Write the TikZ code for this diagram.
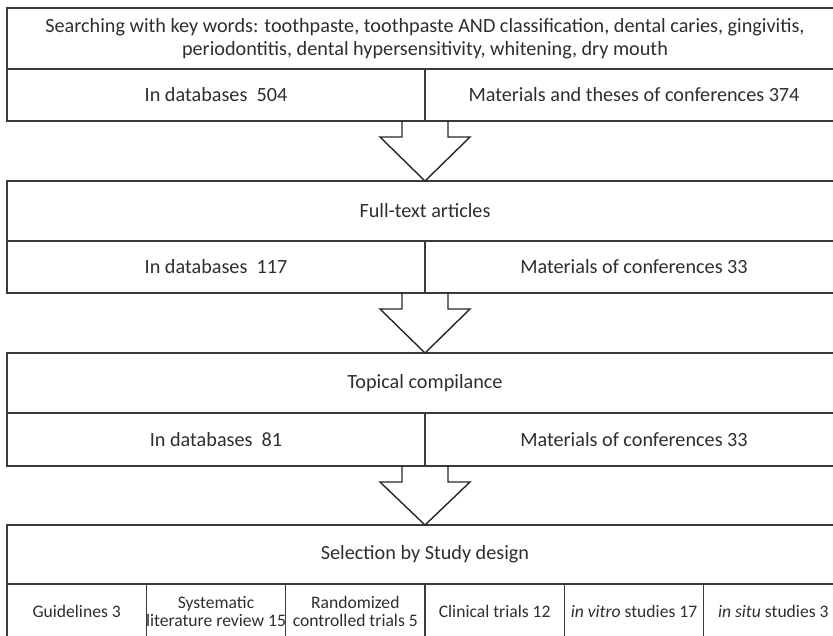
\documentclass[tikz,border=0pt]{standalone}
\usepackage{fontspec}
\setmainfont{Carlito}
\usepackage{xcolor}
\usepackage{tikz}
\usetikzlibrary{calc}

\definecolor{framegray}{HTML}{3A3A3A}
\definecolor{inkgray}{HTML}{2E2E2E}

\tikzset{
  boxframe/.style={line width=2pt, draw=framegray},
  divline/.style={line width=1.3pt, draw=framegray},
  blockarrow/.style={line width=1.4pt, draw=black!85, line join=miter},
  boxtext/.style={text=inkgray, font=\fontsize{20.2}{23}\selectfont, align=center, inner sep=0pt},
  celltext/.style={boxtext, font=\fontsize{17.6}{18}\selectfont},
}

\begin{document}
\begin{tikzpicture}[x=1pt, y=1pt]
  \useasboundingbox (0,0) rectangle (833,-635);
  \clip (0,0) rectangle (833,-635);

  % the three boxes with two halves
  \foreach \t/\m/\b in {8/69/121, 181/241/293, 353/413/466} {
    \draw[boxframe] (7,-\t) rectangle (843,-\b);
    \draw[divline] (7,-\m) -- (843,-\m);
    \draw[divline] (425,-\m) -- (425,-\b);
  }

  % last box, six columns
  \draw[boxframe] (7,-525) rectangle (843,-648);
  \draw[divline] (7,-584) -- (843,-584);
  \foreach \x in {146.3,285.7,425,564.3,703.7} \draw[divline] (\x,-584) -- (\x,-648);

  \node[boxtext] (search) at (425,-38.5) {Searching with key words: toothpaste, toothpaste AND classification, dental caries, gingivitis,\\periodontitis, dental hypersensitivity, whitening, dry mouth};
  \node[boxtext] (db1) at (216,-95) {In databases\ \ 504};
  \node[boxtext] (conf1) at (634,-95) {Materials and theses of conferences 374};

  \node[boxtext] (fulltext) at (425,-211) {Full-text articles};
  \node[boxtext] (db2) at (216,-267) {In databases\ \ 117};
  \node[boxtext] (conf2) at (634,-267) {Materials of conferences 33};

  \node[boxtext] (topical) at (425,-383) {Topical compilance};
  \node[boxtext] (db3) at (216,-439.5) {In databases\ \ 81};
  \node[boxtext] (conf3) at (634,-439.5) {Materials of conferences 33};

  \node[boxtext] (design) at (425,-554.5) {Selection by Study design};
  \node[celltext] (guide) at (76.7,-611) {Guidelines 3};
  \node[celltext] (review) at (216,-611) {Systematic\\literature review 15};
  \node[celltext] (rct) at (355.3,-611) {Randomized\\controlled trials 5};
  \node[celltext] (clinical) at (494.7,-611) {Clinical trials 12};
  \node[celltext] (vitro) at (634,-611) {\textit{in vitro} studies 17};
  \node[celltext] (situ) at (773.3,-611) {\textit{in situ} studies 3};

  % block arrows between boxes
  \coordinate (out1) at (425,-121);
  \coordinate (in2) at (425,-181);
  \coordinate (out2) at (425,-293);
  \coordinate (in3) at (425,-353);
  \coordinate (out3) at (425,-466);
  \coordinate (in4) at (425,-525);

  \foreach \from/\to in {out1/in2, out2/in3, out3/in4}
    \draw[blockarrow] ($(\from)+(-23,0)$) -- ++(0,-16) -- ++(-22,0) -- (\to)
      -- ($(\from)+(45,-16)$) -- ++(-22,0) -- ++(0,16);
\end{tikzpicture}
\end{document}
